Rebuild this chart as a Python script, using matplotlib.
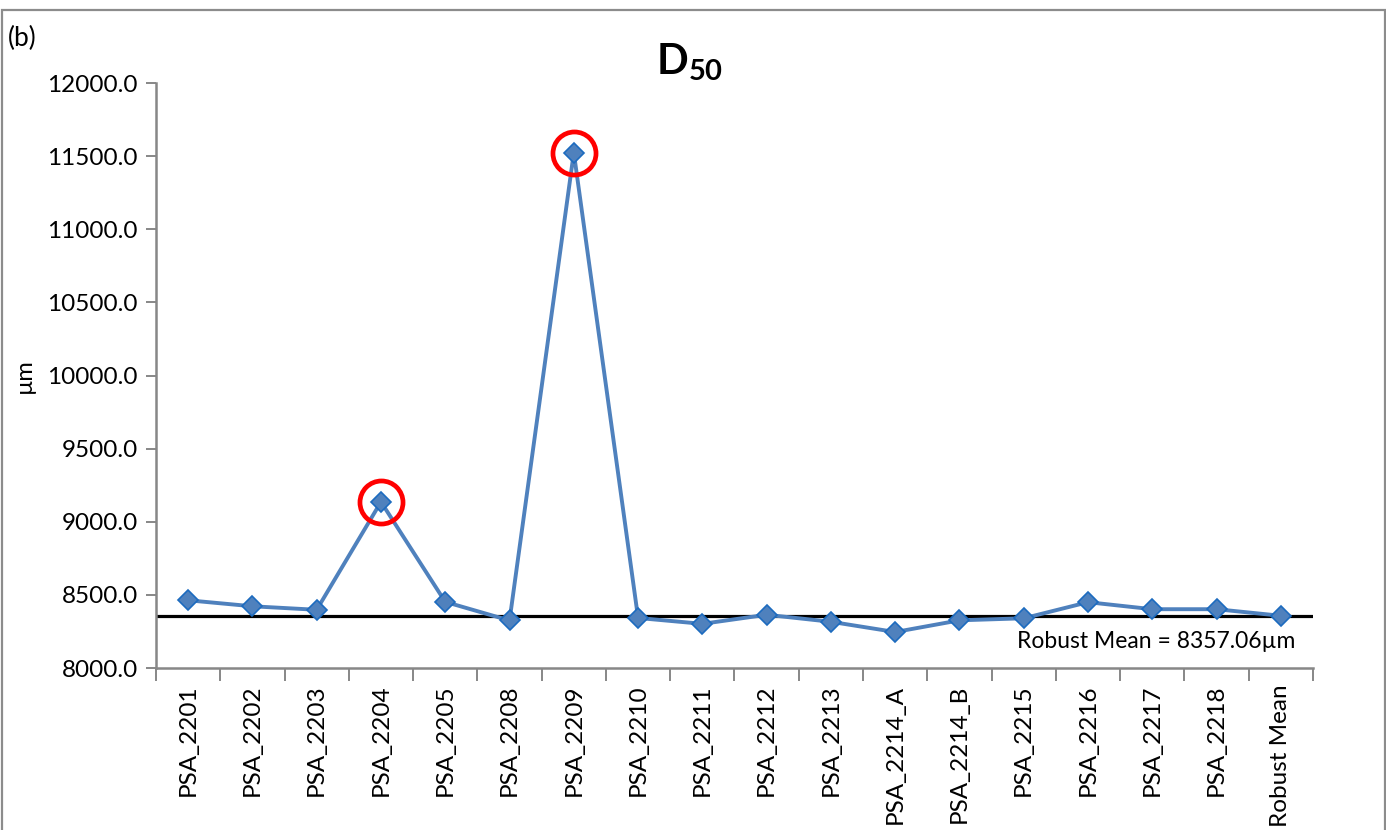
import matplotlib.pyplot as plt
from matplotlib.patches import Rectangle
from matplotlib.ticker import FixedLocator, FormatStrFormatter

plt.rcParams['font.family'] = ['Lato', 'DejaVu Sans']
plt.rcParams['mathtext.fontset'] = 'custom'
plt.rcParams['mathtext.bf'] = 'Lato:bold'
plt.rcParams['mathtext.rm'] = 'Lato'

# D50 per lab (um)
labs = ["PSA_2201", "PSA_2202", "PSA_2203", "PSA_2204", "PSA_2205", "PSA_2208",
        "PSA_2209", "PSA_2210", "PSA_2211", "PSA_2212", "PSA_2213", "PSA_2214_A",
        "PSA_2214_B", "PSA_2215", "PSA_2216", "PSA_2217", "PSA_2218", "Robust Mean"]
d50 = [8463, 8422, 8398, 9136, 8452, 8325,
       11524, 8342, 8302, 8364, 8316, 8246,
       8326, 8340, 8450, 8402, 8402, 8357.06]
robust_mean = 8357.06
outliers = ["PSA_2204", "PSA_2209"]

blue = "#4F81BD"
edge_blue = "#1C6BBF"
grey = "#878787"

fig = plt.figure(figsize=(13.86, 8.30), dpi=100)
ax = fig.add_axes([156 / 1386, 1 - 668 / 830, 1157 / 1386, 585 / 830])

x = list(range(len(labs)))
ax.plot(x, d50, color=blue, lw=2.8, marker='D', ms=10.5,
        mfc=blue, mec=edge_blue, mew=1.2, zorder=3)

# flag the outliers
for name in outliers:
    i = labs.index(name)
    ax.plot(i, d50[i], marker='o', ms=31, mfc='none', mec='#FF0000', mew=3.4, zorder=4)

ax.axhline(robust_mean, color='black', lw=2.3, zorder=2)
ax.text(0.985, 8183, "Robust Mean = %.2f\u00b5m" % robust_mean,
        transform=ax.get_yaxis_transform(), ha='right', va='center', fontsize=16.5)

ax.set_xlim(-0.5, len(labs) - 0.5)
ax.set_ylim(8000, 12000)
ax.set_yticks([8000 + 500 * k for k in range(9)])
ax.yaxis.set_major_formatter(FormatStrFormatter('%.1f'))

ax.set_xticks(x)
ax.set_xticklabels(labs, rotation=90, fontsize=17.5)
ax.xaxis.set_minor_locator(FixedLocator([i - 0.5 for i in range(len(labs) + 1)]))
ax.tick_params(axis='x', which='major', length=0, pad=12)
ax.tick_params(axis='x', which='minor', length=9, width=1.4, color=grey)
ax.tick_params(axis='y', length=7, width=1.4, color=grey, labelsize=17.5, pad=6)

for side in ['top', 'right']:
    ax.spines[side].set_visible(False)
for side in ['left', 'bottom']:
    ax.spines[side].set_color(grey)
    ax.spines[side].set_linewidth(1.8)

ax.set_ylabel("\u00b5m", fontsize=17, labelpad=9)

fig.text(690 / 1386, 1 - 62 / 830, r"$\mathbf{D}_{\mathbf{50}}$", ha='center', va='center', fontsize=30)
fig.text(8 / 1386, 1 - 38 / 830, "(b)", ha='left', va='center', fontsize=19)

# chart border
fig.patches.append(Rectangle((2 / 1386, -0.05), 1382.5 / 1386, 1.05 - 10 / 830,
                             transform=fig.transFigure, fill=False,
                             edgecolor='#8C8C8C', lw=1.6, clip_on=False))

fig.savefig("out.png", dpi=100)
